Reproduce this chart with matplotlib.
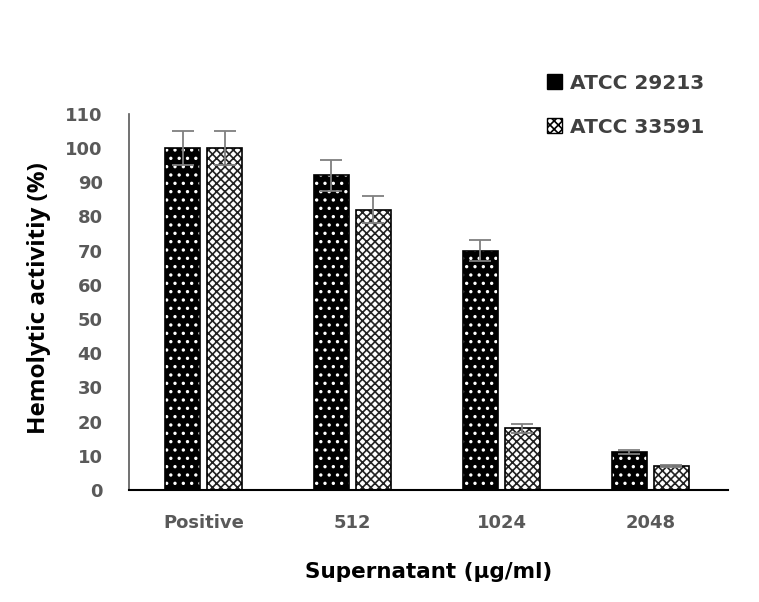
import matplotlib
matplotlib.use("Agg")
import matplotlib.pyplot as plt
import numpy as np
from matplotlib.patches import Patch

categories = ["Positive", "512", "1024", "2048"]
series_names = ["ATCC 29213", "ATCC 33591"]
atcc29213 = [100, 92, 70, 11]
atcc29213_err = [5, 4.5, 3, 0.6]
atcc33591 = [100, 82, 18, 7]
atcc33591_err = [5, 4, 1.2, 0.4]
yticks = list(range(0, 111, 10))

plt.rcParams['font.family'] = ['DejaVu Sans']
plt.rcParams['hatch.linewidth'] = 1.2

fig = plt.figure(figsize=(7.59, 6.02), dpi=100)
ax = fig.add_axes([0.170, 0.186, 0.789, 0.625])

x = np.arange(len(categories))
w = 0.235
off = 0.141
tick_grey = '#595959'

# black bars with white dots
ax.bar(x - off, atcc29213, w, color='black', hatch='..', edgecolor='white', linewidth=0, zorder=2)
ax.bar(x - off, atcc29213, w, fill=False, edgecolor='black', linewidth=1.2, zorder=3)
# white bars with black weave pattern
ax.bar(x + off, atcc33591, w, color='white', hatch='xxxx', edgecolor='#222222', linewidth=0, zorder=2)
ax.bar(x + off, atcc33591, w, fill=False, edgecolor='black', linewidth=1.2, zorder=3)

ax.errorbar(x - off, atcc29213, yerr=atcc29213_err, fmt='none', ecolor='#7f7f7f',
            elinewidth=1.3, capsize=8, capthick=1.3, zorder=4)
ax.errorbar(x + off, atcc33591, yerr=atcc33591_err, fmt='none', ecolor='#7f7f7f',
            elinewidth=1.3, capsize=8, capthick=1.3, zorder=4)

ax.set_xlim(-0.5, 3.52)
ax.set_ylim(0, 110)
ax.set_yticks(yticks)
ax.set_xticks(x)
ax.set_xticklabels(categories)
ax.tick_params(axis='both', length=0, labelsize=13, labelcolor=tick_grey)
ax.tick_params(axis='y', pad=19)
ax.tick_params(axis='x', pad=17)
for lab in ax.get_xticklabels() + ax.get_yticklabels():
    lab.set_fontweight('bold')

for s in ['top', 'right']:
    ax.spines[s].set_visible(False)
ax.spines['left'].set_color('#595959')
ax.spines['left'].set_linewidth(1.2)
ax.spines['bottom'].set_color('black')
ax.spines['bottom'].set_linewidth(1.5)

ax.set_ylabel('Hemolytic activitiy (%)', fontsize=17.5, fontweight='bold',
              family=['Open Sans', 'DejaVu Sans'])
ax.yaxis.set_label_coords(-0.131, 0.51)
ax.set_xlabel('Supernatant (µg/ml)', fontsize=15.5, fontweight='bold')
ax.xaxis.set_label_coords(0.5, -0.19)

handles = [Patch(facecolor='black', hatch='..', edgecolor='black', label=series_names[0]),
           Patch(facecolor='white', hatch='xxxx', edgecolor='black', label=series_names[1])]
leg = fig.legend(handles=handles, loc='upper left', bbox_to_anchor=(0.697, 0.908),
                 frameon=False, fontsize=14.5, handlelength=0.75, handleheight=0.75,
                 handletextpad=0.4, labelspacing=1.25)
for t in leg.get_texts():
    t.set_color('#404040')
    t.set_fontweight('bold')

fig.savefig('out.png', dpi=100)
